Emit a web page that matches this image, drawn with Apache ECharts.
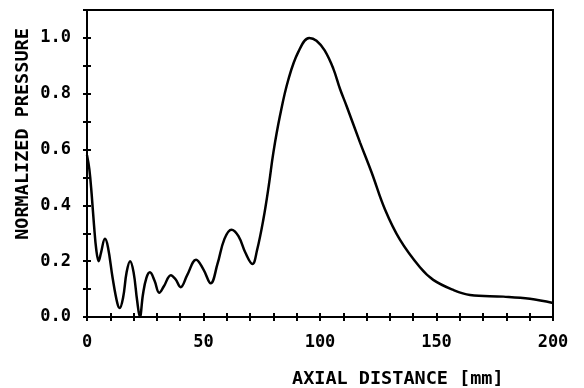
<!DOCTYPE html>
<html>
<head>
<meta charset="utf-8">
<script src="https://cdn.jsdelivr.net/npm/echarts@6/dist/echarts.min.js"></script>
<style>
  html, body { margin: 0; padding: 0; background: #fff; }
  #chart { width: 584px; height: 388px; }
</style>
</head>
<body>
<div id="chart"></div>
<script>
// axial distance (mm) and normalized pressure
const distance = [0, 1, 2, 3, 4, 5, 6, 7.7, 9, 11, 13, 14, 15.5, 17, 18.5, 20, 21.5, 22.7, 24, 25.5,
    27, 29, 31, 33, 36, 38, 40.2, 43, 46.8, 50, 53.1, 56, 59, 62, 65, 68, 71, 73, 75.7, 78,
    80, 82.8, 86.4, 90.7, 95.4, 98.5, 102, 105.7, 108.6, 111.4, 117.2, 122.2, 127.9, 134.3, 142.9, 148.6, 157.2, 164.4, 178.7, 190.1,
    200];
const pressure = [0.58, 0.53, 0.44, 0.33, 0.24, 0.2, 0.23, 0.28, 0.25, 0.14, 0.05, 0.032, 0.07, 0.16, 0.2, 0.16, 0.06, 0.0, 0.08, 0.14,
    0.16, 0.13, 0.087, 0.11, 0.15, 0.135, 0.107, 0.15, 0.205, 0.17, 0.121, 0.19, 0.28, 0.313, 0.29, 0.23, 0.19, 0.24, 0.35, 0.47,
    0.59, 0.72, 0.85, 0.95, 1.0, 0.99, 0.955, 0.89, 0.817, 0.756, 0.625, 0.517, 0.385, 0.277, 0.178, 0.133, 0.097, 0.079, 0.073, 0.065,
    0.05];
const xTickLabels = [0, 50, 100, 150, 200];
const yTickLabels = [0, 0.2, 0.4, 0.6, 0.8, 1.0];

const font = "DejaVu Sans Mono";
const chart = echarts.init(document.getElementById("chart"));

// ticks cross the axis: axis pulled 4px inward, ticks 8px long outward,
// the visible axis line is the grid border
chart.setOption({
    animation: false,
    backgroundColor: "#fff",
    grid: {
        left: 87,
        right: 31,
        top: 10,
        bottom: 71,
        show: true,
        borderColor: "#000",
        borderWidth: 2,
    },
    xAxis: {
        type: "value",
        min: 0,
        max: 200,
        interval: 10,
        offset: -4,
        splitLine: { show: false },
        axisLine: { show: false },
        axisTick: { length: 8, lineStyle: { color: "#000", width: 2 } },
        axisLabel: {
            margin: 21,
            color: "#000",
            fontFamily: font,
            fontWeight: "bold",
            fontSize: 17,
            formatter: (v) => (xTickLabels.includes(v) ? String(v) : ""),
        },
    },
    yAxis: {
        type: "value",
        min: 0,
        max: 1.1,
        interval: 0.1,
        offset: -4,
        splitLine: { show: false },
        axisLine: { show: false },
        axisTick: { length: 8, lineStyle: { color: "#000", width: 2 } },
        axisLabel: {
            margin: 20,
            color: "#000",
            fontFamily: font,
            fontWeight: "bold",
            fontSize: 17,
            formatter: (v) => {
                const r = Math.round(v * 10) / 10;
                return yTickLabels.some((t) => Math.abs(t - r) < 1e-6) ? r.toFixed(1) : "";
            },
        },
    },
    graphic: [
        {
            type: "text",
            left: 292,
            top: 370,
            style: {
                text: "AXIAL DISTANCE [mm]",
                font: "bold 18.5px " + font,
                fill: "#000",
            },
        },
        {
            type: "text",
            x: 23,
            y: 134,
            rotation: Math.PI / 2,
            style: {
                text: "NORMALIZED PRESSURE",
                font: "bold 18.5px " + font,
                fill: "#000",
                align: "center",
                verticalAlign: "middle",
            },
        },
    ],
    series: [
        {
            type: "line",
            data: distance.map((d, i) => [d, pressure[i]]),
            smooth: 0.4,
            showSymbol: false,
            lineStyle: { color: "#000", width: 2.5 },
        },
    ],
});
</script>
</body>
</html>
